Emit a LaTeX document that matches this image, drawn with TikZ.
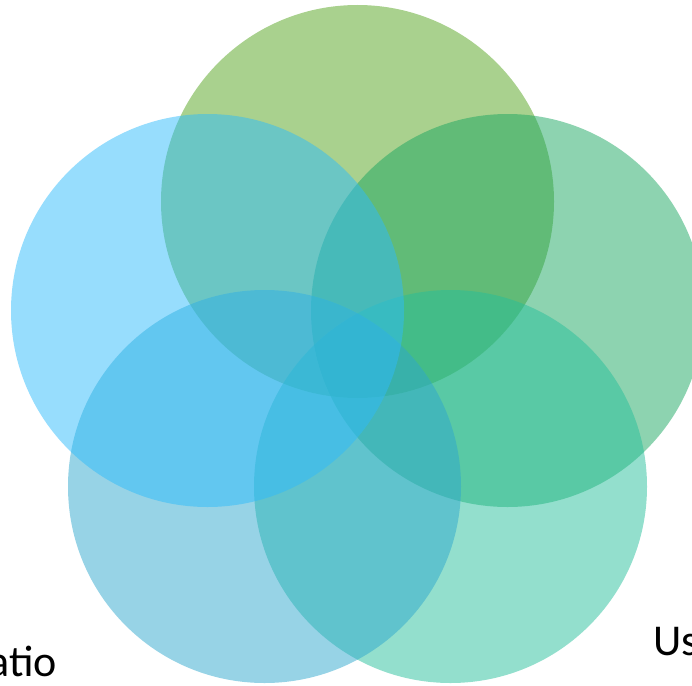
\documentclass[tikz,border=0pt]{standalone}
\usepackage{fontspec}
\setmainfont{Carlito}
\definecolor{cgreen}{RGB}{83,163,29}
\definecolor{cblue}{RGB}{47,187,251}
\definecolor{cmint}{RGB}{27,167,97}
\definecolor{csky}{RGB}{47,167,205}
\definecolor{cteal}{RGB}{39,191,155}
\begin{document}
\begin{tikzpicture}[x=1pt,y=-1pt,
  disc/.style={circle,minimum size=393pt,inner sep=0pt,fill opacity=0.5,draw=none},
  lbl/.style={font=\fontsize{44}{52}\selectfont,inner sep=0pt,text=black}]
\useasboundingbox (0,0) rectangle (692,685);
\clip (0,0) rectangle (692,685);
\node[disc,fill=cgreen] (top) at (357.5,201.5) {};
\node[disc,fill=cmint] (right) at (507.5,310.5) {};
\node[disc,fill=cteal] (br) at (450.5,486.5) {};
\node[disc,fill=csky] (bl) at (264.5,486.5) {};
\node[disc,fill=cblue] (left) at (207.5,310.5) {};
\node[lbl,anchor=base east] (t1) at (57,676) {atio};
\node[lbl,anchor=base west] (t2) at (653,655) {Us};
\end{tikzpicture}
\end{document}
